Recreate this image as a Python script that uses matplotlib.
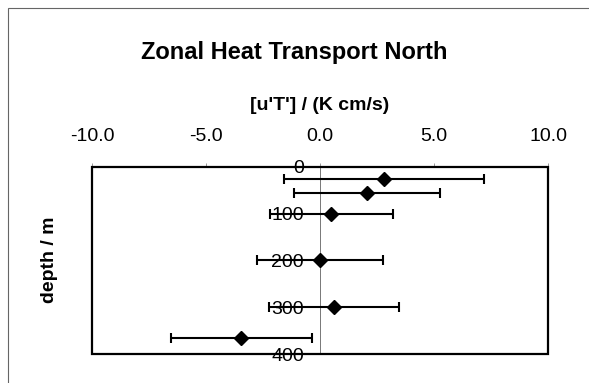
import matplotlib
matplotlib.use("Agg")
import matplotlib.pyplot as plt
from matplotlib.patches import Rectangle

plt.rcParams['font.family'] = ['Liberation Sans', 'DejaVu Sans']

# zonal heat flux profile with error ranges
depth = [25, 55, 100, 200, 300, 365]
flux = [2.8, 2.05, 0.5, 0.0, 0.6, -3.45]
flux_err = [4.4, 3.2, 2.7, 2.75, 2.85, 3.1]

x_ticks = [-10, -5, 0, 5, 10]
y_ticks = [0, 100, 200, 300, 400]

fig = plt.figure(figsize=(5.89, 3.83), dpi=100)
ax = fig.add_axes([0.1562, 0.0757, 0.7742, 0.4883])

ax.errorbar(flux, depth, xerr=flux_err, fmt='D', color='black',
            markersize=7, elinewidth=1.5, capsize=3.6, capthick=1.5,
            zorder=3)

ax.set_xlim(-10, 10)
ax.set_ylim(400, 0)

# x axis on top
ax.xaxis.set_ticks_position('top')
ax.xaxis.set_label_position('top')
ax.set_xticks(x_ticks)
ax.set_xticklabels([f"{v:.1f}" for v in x_ticks], fontsize=14)
ax.tick_params(axis='x', length=3, width=0.6, color='#888888', pad=13)
ax.set_xlabel("[u'T'] / (K cm/s)", fontsize=14, fontweight='bold')
ax.xaxis.label.set_va('center')
ax.xaxis.set_label_coords(0.5, 1.33)

# y axis sits on x = 0
for s in ['top', 'right', 'bottom']:
    ax.spines[s].set_visible(False)
ax.spines['left'].set_position(('data', 0))
ax.spines['left'].set_color('#777777')
ax.spines['left'].set_linewidth(0.7)
ax.set_yticks(y_ticks)
ax.set_yticklabels([str(v) for v in y_ticks], fontsize=14)
ax.tick_params(axis='y', length=0, pad=11.5)

ax.add_patch(Rectangle((0, 0), 1, 1, transform=ax.transAxes, fill=False,
                       edgecolor='black', linewidth=1.6, zorder=4,
                       clip_on=False))

fig.text(49 / 589, 1 - 260 / 383, 'depth / m', rotation=90, fontsize=14,
         fontweight='bold', ha='center', va='center')
fig.suptitle('Zonal Heat Transport North', fontsize=17, fontweight='bold',
             x=0.5, y=1 - 52 / 383, va='center')

# figure border
fig.add_artist(Rectangle((8 / 589, -0.1), 1.2, 1.1 - 8 / 383,
                         transform=fig.transFigure, fill=False,
                         edgecolor='#666666', linewidth=0.8))

fig.savefig('out.png', dpi=100)
